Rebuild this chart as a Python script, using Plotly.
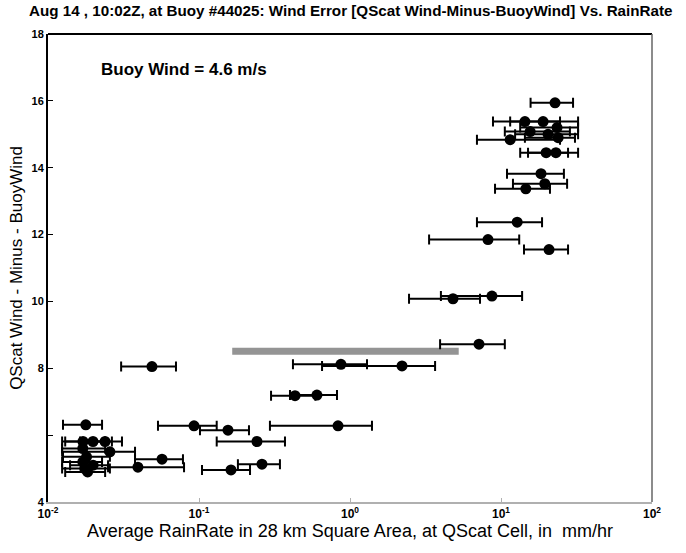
import plotly.graph_objects as go
import numpy as np

# Rain rate (mm/hr): centre, left end, right end of each bar; wind error (m/s)
rain_center = [22.8, 14.4, 19.0, 23.5, 15.6, 20.5, 11.5, 23.9, 19.9, 23.1,
               18.4, 19.5, 14.6, 12.8, 8.2, 20.8, 4.81, 8.71, 7.15, 0.871,
               2.21, 0.0488, 0.4325, 0.604, 0.0927, 0.1556, 0.833, 0.2421, 0.2612, 0.1629,
               0.0178, 0.01705, 0.01986, 0.02386, 0.0257, 0.0569, 0.0394,
               0.0170, 0.0180, 0.0170, 0.0175, 0.0183, 0.0199]
rain_low = [15.7, 8.85, 11.5, 13.4, 10.6, 12.4, 6.93, 14.4, 13.4, 15.1,
            10.96, 12.0, 9.13, 6.93, 3.34, 14.2, 2.46, 4.0, 3.95, 0.419,
            0.653, 0.0305, 0.300, 0.4005, 0.0535, 0.1015, 0.295, 0.131, 0.181, 0.1047,
            0.01257, 0.0124, 0.0130, 0.0163, 0.0124, 0.0377, 0.0250,
            0.0124, 0.01257, 0.0124, 0.0124, 0.0130, 0.0140]
rain_high = [30.0, 24.6, 32.4, 32.4, 28.6, 32.4, 24.6, 30.9, 27.8, 32.4,
             26.1, 27.4, 21.1, 18.7, 13.2, 27.8, 7.26, 13.8, 10.6, 1.296,
             3.66, 0.0704, 0.59, 0.82, 0.131, 0.2143, 1.398, 0.371, 0.3436, 0.2177,
             0.0228, 0.0239, 0.0265, 0.0309, 0.0377, 0.0783, 0.0796,
             0.0239, 0.0257, 0.0228, 0.0257, 0.0239, 0.0250]
wind_error = [15.94, 15.38, 15.38, 15.2, 15.08, 15.0, 14.84, 14.9, 14.45, 14.45,
              13.82, 13.52, 13.37, 12.37, 11.85, 11.55, 10.08, 10.16, 8.72, 8.12,
              8.07, 8.05, 7.18, 7.2, 6.28, 6.15, 6.28, 5.81, 5.13, 4.96,
              6.31, 5.81, 5.81, 5.81, 5.5, 5.28, 5.04,
              5.6, 5.35, 5.2, 5.0, 4.9, 5.1]

x_tickvals = [0.01, 0.1, 1, 10, 100]
x_ticktext = ["<b>10<sup>-2</sup></b>", "<b>10<sup>-1</sup></b>", "<b>10<sup>0</sup></b>",
              "<b>10<sup>1</sup></b>", "<b>10<sup>2</sup></b>"]
y_tickvals = [4, 8, 10, 12, 14, 16, 18]
y_ticktext = ["<b>4</b>", "<b>8</b>", "<b>10</b>", "<b>12</b>", "<b>14</b>", "<b>16</b>", "<b>18</b>"]
y_unlabelled_ticks = [6]

xc = np.array(rain_center)
err_plus = np.array(rain_high) - xc
err_minus = xc - np.array(rain_low)

fig = go.Figure()
fig.add_trace(go.Scatter(
    x=rain_center, y=wind_error, mode="markers",
    marker=dict(color="black", size=11),
    error_x=dict(type="data", symmetric=False, array=err_plus.tolist(),
                 arrayminus=err_minus.tolist(), color="black",
                 thickness=2, width=5),
    showlegend=False,
))

font_main = "Liberation Sans, Arial, sans-serif"

fig.update_layout(
    width=686, height=553,
    margin=dict(l=48, r=34, t=34, b=51),
    paper_bgcolor="white", plot_bgcolor="white",
    font=dict(family=font_main, color="black"),
    xaxis=dict(type="log", range=[-2, 2], tickvals=x_tickvals, ticktext=x_ticktext,
               showgrid=False, zeroline=False, showline=True, linecolor="#b0b0b0",
               linewidth=1.5, ticks="inside", ticklen=4, tickcolor="#b0b0b0",
               tickfont=dict(size=12, family=font_main),
               title=dict(text="Average RainRate in 28 km Square Area, at QScat Cell, in  mm/hr",
                          font=dict(size=18), standoff=2)),
    yaxis=dict(range=[4, 18], tickvals=y_tickvals, ticktext=y_ticktext,
               showgrid=False, zeroline=False, showline=True, linecolor="black",
               linewidth=2, ticks="inside", ticklen=5, tickcolor="black",
               tickfont=dict(size=11, family=font_main),
               minor=dict(tickvals=y_unlabelled_ticks, ticks="inside", ticklen=5,
                          tickcolor="black", showgrid=False),
               title=dict(text="QScat Wind - Minus - BuoyWind", font=dict(size=17), standoff=5)),
    shapes=[
        dict(type="line", xref="paper", yref="paper", x0=0, x1=1, y0=1, y1=1,
             line=dict(color="black", width=2)),
        dict(type="line", xref="paper", yref="paper", x0=1, x1=1, y0=0, y1=1,
             line=dict(color="#666666", width=1.5)),
        dict(type="line", xref="paper", yref="paper", x0=0.305, x1=0.68, y0=0.322, y1=0.322,
             line=dict(color="rgba(60,60,60,0.55)", width=7), layer="below"),
    ],
    annotations=[
        dict(text="<b>Aug 14 , 10:02Z, at Buoy #44025: Wind Error [QScat Wind-Minus-BuoyWind] Vs. RainRate</b>",
             xref="paper", yref="paper", x=0.5, y=1.0, yshift=24, xanchor="center", yanchor="middle",
             showarrow=False, font=dict(size=15.2, family=font_main)),
        dict(text="<b>Buoy Wind = 4.6 m/s</b>", xref="paper", yref="paper",
             x=0.085, y=0.925, xanchor="left", yanchor="middle", showarrow=False,
             font=dict(size=17, family=font_main)),
    ],
)

fig.write_html("out.html")
